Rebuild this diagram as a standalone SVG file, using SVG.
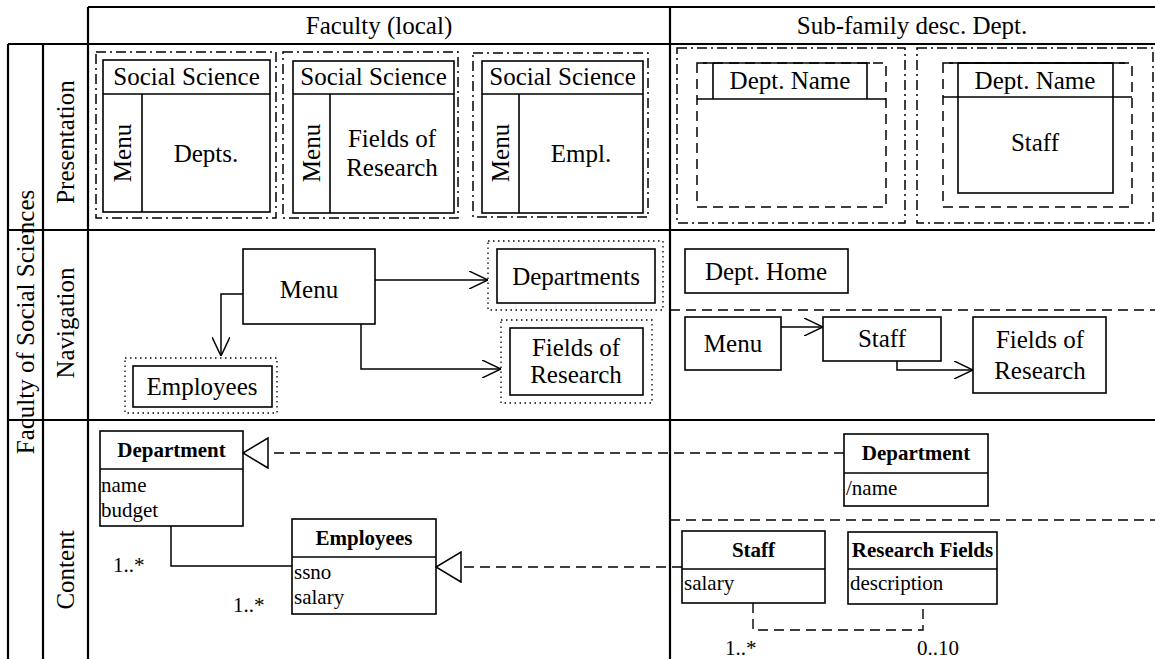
<svg xmlns="http://www.w3.org/2000/svg" width="1155" height="659" viewBox="0 0 1155 659">
<style>
text{font-family:"Liberation Serif","Times New Roman",serif;fill:#000}
.t{font-size:25px}
.h{font-size:25px}
.c{font-size:21px}
.b{font-size:21px;font-weight:bold}
.m{text-anchor:middle}
.grid{stroke:#000;stroke-width:2.2;fill:none}
.box{stroke:#000;stroke-width:1.6;fill:none}
.dd{stroke:#000;stroke-width:1.5;fill:none;stroke-dasharray:10 4 2 4}
.ds{stroke:#000;stroke-width:1.5;fill:none;stroke-dasharray:10 6}
.dot{stroke:#000;stroke-width:1.3;fill:none;stroke-dasharray:1.5 3.5}
.ln{stroke:#000;stroke-width:1.5;fill:none}
.dl{stroke:#000;stroke-width:1.4;fill:none;stroke-dasharray:10 6}
</style>
<defs>
<marker id="open" viewBox="0 0 19 18" refX="19" refY="9" markerWidth="19" markerHeight="18" markerUnits="userSpaceOnUse" orient="auto">
<path d="M0,0 L19,9 L0,18" fill="none" stroke="#000" stroke-width="1.5" stroke-dasharray="none"/>
</marker>
<marker id="gen" viewBox="-1 -1 27 32" refX="25" refY="15" markerWidth="27" markerHeight="32" markerUnits="userSpaceOnUse" orient="auto">
<path d="M0,0 L25,15 L0,30 Z" fill="#fff" stroke="#000" stroke-width="1.5" stroke-dasharray="none"/>
</marker>
</defs>

<g id="grid">
<path class="grid" d="M88,7 H1155 M8,44 H1155 M8,230 H1155 M8,420 H1155 M88,7 V659 M670,7 V659 M8,44 V659 M43,44 V659"/>
<text class="h m" x="379" y="34">Faculty (local)</text>
<text class="h m" x="912" y="34">Sub-family desc. Dept.</text>
<text class="t m" transform="translate(34,322) rotate(-90)">Faculty of Social Sciences</text>
<text class="t m" transform="translate(74,142) rotate(-90)">Presentation</text>
<text class="t m" transform="translate(74,323) rotate(-90)">Navigation</text>
<text class="t m" transform="translate(74,570) rotate(-90)">Content</text>
</g>

<g id="pres-depts">
<rect class="dd" x="96" y="52" width="180" height="166"/>
<rect class="box" x="103" y="60" width="167" height="152"/>
<path class="box" d="M103,94 H270 M142,94 V212"/>
<text class="t m" x="186.5" y="85">Social Science</text>
<text class="t m" transform="translate(131,153) rotate(-90)">Menu</text>
<text class="t m" x="206" y="162">Depts.</text>
</g>

<g id="pres-fields">
<rect class="dd" x="283" y="52" width="175" height="166"/>
<rect class="box" x="293" y="61" width="161" height="152"/>
<path class="box" d="M293,94 H454 M330,94 V213"/>
<text class="t m" x="373.5" y="85">Social Science</text>
<text class="t m" transform="translate(320,153) rotate(-90)">Menu</text>
<text class="t m" x="392" y="147">Fields of</text>
<text class="t m" x="392" y="176">Research</text>
</g>

<g id="pres-empl">
<rect class="dd" x="473" y="53" width="175" height="164"/>
<rect class="box" x="482" y="61" width="161" height="152"/>
<path class="box" d="M482,94 H643 M519,94 V213"/>
<text class="t m" x="562.5" y="85">Social Science</text>
<text class="t m" transform="translate(509,153) rotate(-90)">Menu</text>
<text class="t m" x="581" y="162">Empl.</text>
</g>

<g id="pres-deptname">
<rect class="dd" x="677" y="48" width="228" height="175"/>
<rect class="ds" x="697" y="63" width="189" height="144"/>
<path class="box" d="M703,63 H870 M713,63 V99 M867,63 V99 M697,99 H886"/>
<text class="t m" x="790" y="89">Dept. Name</text>
</g>

<g id="pres-staff">
<rect class="dd" x="917" y="48" width="236" height="175"/>
<rect class="ds" x="943" y="63" width="189" height="144"/>
<path class="box" d="M949,63 H1125 M943,97 H1132"/>
<rect class="box" x="958" y="63" width="155" height="130"/>
<text class="t m" x="1035" y="89">Dept. Name</text>
<text class="t m" x="1035" y="151">Staff</text>
</g>

<g id="nav-menu">
<rect class="box" x="243" y="249" width="132" height="75"/>
<text class="t m" x="309" y="298">Menu</text>
</g>
<g id="nav-departments">
<rect class="dot" x="488" y="241" width="175" height="69"/>
<rect class="box" x="497" y="249" width="158" height="54"/>
<text class="t m" x="576" y="285">Departments</text>
</g>
<g id="nav-fields">
<rect class="dot" x="501" y="320" width="151" height="83"/>
<rect class="box" x="510" y="328" width="133" height="67"/>
<text class="t m" x="576" y="356">Fields of</text>
<text class="t m" x="576" y="383">Research</text>
</g>
<g id="nav-employees">
<rect class="dot" x="125" y="358" width="152" height="55"/>
<rect class="box" x="133" y="366" width="139" height="41"/>
<text class="t m" x="202" y="395">Employees</text>
</g>

<g id="nav-depthome">
<rect class="box" x="685" y="249" width="163" height="44"/>
<text class="t m" x="766" y="280">Dept. Home</text>
</g>
<g id="nav-sep">
<path class="dl" d="M670,310 H1155"/>
</g>
<g id="nav-menu2">
<rect class="box" x="685" y="317" width="96" height="53"/>
<text class="t m" x="733" y="352">Menu</text>
</g>
<g id="nav-staff">
<rect class="box" x="823" y="317" width="118" height="44"/>
<text class="t m" x="882" y="347">Staff</text>
</g>
<g id="nav-fields2">
<rect class="box" x="973" y="317" width="133" height="76"/>
<text class="t m" x="1040" y="348">Fields of</text>
<text class="t m" x="1040" y="379">Research</text>
</g>

<g id="content-department">
<rect class="box" x="100" y="431" width="143" height="95"/>
<path class="box" d="M100,469 H243"/>
<text class="b m" x="171.5" y="457">Department</text>
<text class="c" x="101" y="492">name</text>
<text class="c" x="101" y="517">budget</text>
</g>
<g id="content-employees">
<rect class="box" x="292" y="519" width="144" height="95"/>
<path class="box" d="M292,557 H436"/>
<text class="b m" x="364" y="545">Employees</text>
<text class="c" x="294" y="579">ssno</text>
<text class="c" x="294" y="604">salary</text>
</g>
<g id="content-department2">
<rect class="box" x="844" y="434" width="144" height="72"/>
<path class="box" d="M844,473 H988"/>
<text class="b m" x="916" y="460">Department</text>
<text class="c" x="846" y="495">/name</text>
</g>
<g id="content-sep">
<path class="dl" d="M670,520 H1155"/>
</g>
<g id="content-staff">
<rect class="box" x="682" y="531" width="143" height="72"/>
<path class="box" d="M682,569 H825"/>
<text class="b m" x="753.5" y="557">Staff</text>
<text class="c" x="684" y="590">salary</text>
</g>
<g id="content-research">
<rect class="box" x="848" y="532" width="149" height="72"/>
<path class="box" d="M848,569 H997"/>
<text class="b m" x="922.5" y="557">Research Fields</text>
<text class="c" x="850" y="590">description</text>
</g>

<g id="connectors">
<path class="ln" d="M375,280 H488" marker-end="url(#open)"/>
<path class="ln" d="M243,294 H221 V356" marker-end="url(#open)"/>
<path class="ln" d="M361,324 V369 H501" marker-end="url(#open)"/>
<path class="ln" d="M781,327 H823" marker-end="url(#open)"/>
<path class="ln" d="M897,361 V370 H973" marker-end="url(#open)"/>
<path class="dl" d="M844,453 H243" marker-end="url(#gen)"/>
<path class="dl" d="M682,567 H436" marker-end="url(#gen)"/>
<path class="ln" d="M171,526 V566 H292"/>
<path class="dl" d="M753,603 V630 H923 V604"/>
<text class="c" x="113" y="572">1..*</text>
<text class="c" x="233" y="612">1..*</text>
<text class="c" x="725" y="655">1..*</text>
<text class="c" x="917" y="655">0..10</text>
</g>
</svg>
